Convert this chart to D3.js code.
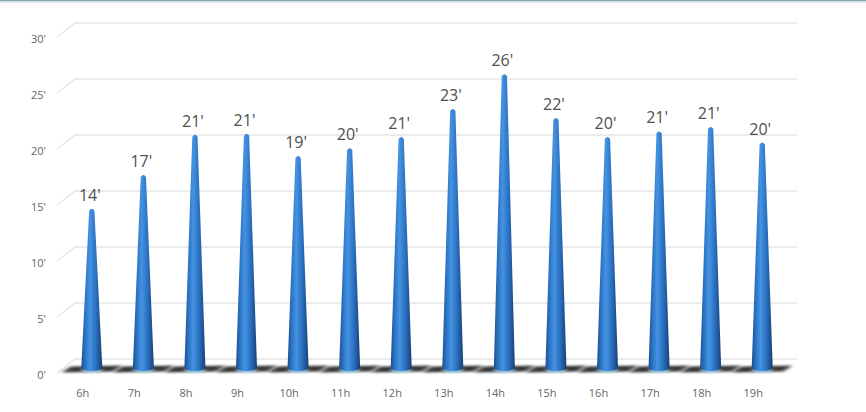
<!DOCTYPE html>
<html><head><meta charset="utf-8">
<script src="https://cdn.jsdelivr.net/npm/d3@7"></script>
<style>
html,body{margin:0;padding:0;background:#fff;}
svg{display:block;}
</style></head>
<body>
<script>
const hours = ["6h","7h","8h","9h","10h","11h","12h","13h","14h","15h","16h","17h","18h","19h"];
const values = [14.0, 17.0, 20.6, 20.7, 18.7, 19.4, 20.4, 22.9, 26.0, 22.1, 20.4, 20.9, 21.3, 19.9];
const valueLabels = ["14'","17'","21'","21'","19'","20'","21'","23'","26'","22'","20'","21'","21'","20'"];
const yTicks = [0, 5, 10, 15, 20, 25, 30];
const yTickLabels = ["0'","5'","10'","15'","20'","25'","30'"];

const W = 866, H = 412;
const svg = d3.select("body").append("svg").attr("width", W).attr("height", H);
const defs = svg.append("defs");

// top border
svg.append("rect").attr("x",0).attr("y",0).attr("width",W).attr("height",1.5).attr("fill","#8ea5ad");
svg.append("rect").attr("x",0).attr("y",1.5).attr("width",W).attr("height",1.2).attr("fill","#cfe6ee");

// scales (front plane)
const y = d3.scaleLinear().domain([0,30]).range([373, 37]);
const depth = 14;      // back plane offset
const midOff = 7.5;    // bars stand in the middle of the depth
const x = d3.scaleBand().domain(hours).range([66, 788]).paddingInner(0).paddingOuter(0);
const cx = d => x(d) + x.bandwidth()/2;

// gridlines (3D)
const grid = svg.append("g");
yTicks.forEach(t => {
  const yf = y(t), yb = y(t) - depth;
  grid.append("path")
    .attr("d", `M57,${yf} L75,${yb} L797,${yb}`)
    .attr("fill","none").attr("stroke","#e6e6e6").attr("stroke-width",1.3);
});

// y tick labels
svg.append("g").selectAll("text").data(yTicks).join("text")
  .attr("x", 46).attr("y", d => y(d) + 2).attr("dy","0.35em")
  .attr("text-anchor","end")
  .attr("font-family","Open Sans, sans-serif").attr("font-size",11).attr("fill","#666")
  .text((d,i) => yTickLabels[i]);

// shadow filter
const f = defs.append("filter").attr("id","blur").attr("x","-50%").attr("y","-200%").attr("width","200%").attr("height","500%");
f.append("feGaussianBlur").attr("stdDeviation","2 1.3");

// bar gradient
const g = defs.append("linearGradient").attr("id","cone").attr("x1","0").attr("x2","1").attr("y1","0").attr("y2","0");
[[0,"#1c4f8e"],[0.2,"#2c74c6"],[0.42,"#4493e2"],[0.7,"#2a70c0"],[1,"#173f73"]]
  .forEach(([o,c]) => g.append("stop").attr("offset",o).attr("stop-color",c));

const floorY = y(0) - midOff + 3;

// shadows
const sh = svg.append("g");
hours.forEach(h => {
  const c = cx(h);
  sh.append("path")
    .attr("d", `M${c-30},${floorY+4} L${c-21},${floorY-2} L${c+30},${floorY-3} L${c+21},${floorY+3} Z`)
    .attr("fill","#151515").attr("opacity",0.85).attr("filter","url(#blur)");
  sh.append("ellipse").attr("cx", c).attr("cy", floorY+2).attr("rx", 11).attr("ry", 2.2)
    .attr("fill","#a8dcf5").attr("opacity",0.9).attr("filter","url(#blur)");
});

// bars (cones)
const baseY = y(0) - midOff;
svg.append("g").selectAll("path").data(values).join("path")
  .attr("d", (v,i) => {
    const c = cx(hours[i]);
    const yt = y(v) - midOff;
    const bw = 10.5, tw = 2.6;
    return `M${c-bw},${baseY+2} L${c-tw},${yt+2} Q${c},${yt-2} ${c+tw},${yt+2} L${c+bw},${baseY+2} A${bw},3.5 0 0 1 ${c-bw},${baseY+2} Z`;
  })
  .attr("fill","url(#cone)");

// value labels
svg.append("g").selectAll("text").data(values).join("text")
  .attr("x", (v,i) => cx(hours[i]) - 2)
  .attr("y", v => y(v) - midOff - 8)
  .attr("text-anchor","middle")
  .attr("font-family","Open Sans, sans-serif").attr("font-size",16).attr("fill","#4f4f4f")
  .text((v,i) => valueLabels[i]);

// x labels
svg.append("g").selectAll("text").data(hours).join("text")
  .attr("x", d => cx(d) - 9).attr("y", 393).attr("dy","0.35em")
  .attr("text-anchor","middle")
  .attr("font-family","Open Sans, sans-serif").attr("font-size",11).attr("fill","#666")
  .text(d => d);
</script>
</body></html>
